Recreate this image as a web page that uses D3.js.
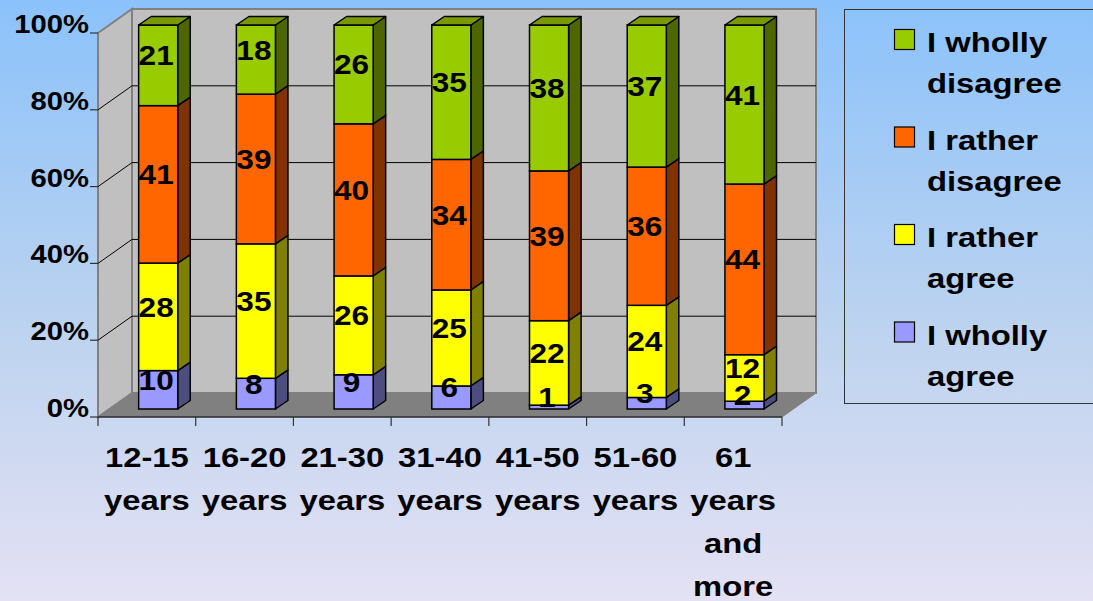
<!DOCTYPE html>
<html><head><meta charset="utf-8">
<script src="https://cdn.jsdelivr.net/npm/d3@7"></script>
<style>html,body{margin:0;padding:0;overflow:hidden;}svg{display:block;}</style>
</head><body>
<svg id="c" width="1093" height="601"></svg>
<script>
const categories = ["12-15 years","16-20 years","21-30 years","31-40 years","41-50 years","51-60 years","61 years and more"];
const seriesNames = ["I wholly agree","I rather agree","I rather disagree","I wholly disagree"];
const whollyAgree = [10,8,9,6,1,3,2];
const ratherAgree = [28,35,26,25,22,24,12];
const ratherDisagree = [41,39,40,34,39,36,44];
const whollyDisagree = [21,18,26,35,38,37,41];
const yTicks = [0,0.2,0.4,0.6,0.8,1];
const yTickLabels = ["0%","20%","40%","60%","80%","100%"];

const frontColors = ["#9999FF","#FFFF00","#FF6600","#99CC00"];
const sideColors  = ["#4D4D80","#808000","#803300","#4D6600"];
const topColors   = ["#7A7ACC","#CCCC00","#CC5200","#7A9900"];

const rows = categories.map((c,i)=>({cat:c, s0:whollyAgree[i], s1:ratherAgree[i], s2:ratherDisagree[i], s3:whollyDisagree[i]}));
const stack = d3.stack().keys(["s0","s1","s2","s3"]).offset(d3.stackOffsetExpand);
const stacked = stack(rows);

const svg = d3.select("#c");
const W=1093,H=601;
const SX = 1.17; // horizontal text stretch
const font = "'Liberation Sans', Arial, sans-serif";

// background gradient
const defs = svg.append("defs");
const g = defs.append("linearGradient").attr("id","bg").attr("x1",0).attr("y1",0).attr("x2",0).attr("y2",1);
g.append("stop").attr("offset","0%").attr("stop-color","#8BC2FB");
g.append("stop").attr("offset","55%").attr("stop-color","#BDD3EF");
g.append("stop").attr("offset","100%").attr("stop-color","#E4E1F4");
svg.append("rect").attr("width",W).attr("height",H).attr("fill","url(#bg)");

// geometry
const X0=98, X1=782, Y0=417, Y1=33;
const DX=34, DY=-24;
const x = d3.scaleBand().domain(categories).range([X0,X1]);
const y = d3.scaleLinear().domain([0,1]).range([Y0,Y1]);
const barW = x.bandwidth()*0.4;
const fx = DX/3, fy = DY/3;     // bar front offset
const bx = 12.5, by = -8.5;       // bar depth

const pts = a => a.map(p=>p.join(",")).join(" ");

// back wall
svg.append("polygon").attr("points",pts([[X0+DX,Y1+DY],[X1+DX,Y1+DY],[X1+DX,Y0+DY],[X0+DX,Y0+DY]]))
  .attr("fill","#C0C0C0").attr("stroke","#808080").attr("stroke-width",2);
// side wall
svg.append("polygon").attr("points",pts([[X0,Y1],[X0+DX,Y1+DY],[X0+DX,Y0+DY],[X0,Y0]]))
  .attr("fill","#C0C0C0").attr("stroke","#808080").attr("stroke-width",2);
// floor
svg.append("polygon").attr("points",pts([[X0,Y0],[X0+DX,Y0+DY],[X1+DX,Y0+DY],[X1,Y0]]))
  .attr("fill","#808080").attr("stroke","#808080").attr("stroke-width",1);

// gridlines
const grid = svg.append("g").attr("stroke","#000").attr("stroke-width",1);
yTicks.filter(t=>t>0 && t<1).forEach(t=>{
  grid.append("line").attr("x1",X0).attr("y1",y(t)).attr("x2",X0+DX).attr("y2",y(t)+DY);
  grid.append("line").attr("x1",X0+DX).attr("y1",y(t)+DY).attr("x2",X1+DX).attr("y2",y(t)+DY);
});

// axes lines
svg.append("line").attr("x1",X0).attr("y1",Y0).attr("x2",X1).attr("y2",Y0).attr("stroke","#000").attr("stroke-width",1.2);
const yAx = svg.append("g");
yTicks.forEach((t,i)=>{
  yAx.append("line").attr("x1",X0-8).attr("x2",X0).attr("y1",y(t)).attr("y2",y(t)).attr("stroke","#333").attr("stroke-width",1.2);
  yAx.append("text").attr("transform",`translate(${X0-9},${y(t)}) scale(${SX},1)`)
    .attr("text-anchor","end").attr("font-family",font).attr("font-weight","bold").attr("font-size",25)
    .text(yTickLabels[i]);
});
// x ticks
const xb = x.domain().map(d=>x(d)).concat([X1]);
xb.forEach(v=>{
  svg.append("line").attr("x1",v).attr("x2",v).attr("y1",Y0).attr("y2",Y0+9).attr("stroke","#333").attr("stroke-width",1.2);
});
// category labels
categories.forEach(c=>{
  const cx = x(c)+x.bandwidth()/2;
  const words = c.split(" ");
  words.forEach((w,j)=>{
    svg.append("text").attr("transform",`translate(${cx},${467+j*43}) scale(${SX},1)`)
      .attr("text-anchor","middle").attr("font-family",font).attr("font-weight","bold").attr("font-size",28)
      .text(w);
  });
});

// bars
const bars = svg.append("g");
categories.forEach((c,ci)=>{
  const left = x(c) + (x.bandwidth()-barW)/2 + fx;
  const right = left + barW;
  stacked.forEach((s,si)=>{
    const d = s[ci];
    const yb = y(d[0])+fy, yt = y(d[1])+fy;
    // side face
    bars.append("polygon").attr("points",pts([[right,yb],[right+bx,yb+by],[right+bx,yt+by],[right,yt]]))
      .attr("fill",sideColors[si]).attr("stroke","#000").attr("stroke-width",1.5).attr("stroke-linejoin","round");
    // front face
    bars.append("rect").attr("x",left).attr("y",yt).attr("width",barW).attr("height",Math.max(0,yb-yt))
      .attr("fill",frontColors[si]).attr("stroke","#000").attr("stroke-width",1.5);
    if(si===stacked.length-1){
      bars.append("polygon").attr("points",pts([[left,yt],[left+bx,yt+by],[right+bx,yt+by],[right,yt]]))
        .attr("fill",topColors[si]).attr("stroke","#000").attr("stroke-width",1.5).attr("stroke-linejoin","round");
    }
  });
});
// value labels
const labels = svg.append("g");
categories.forEach((c,ci)=>{
  const cxm = x(c) + x.bandwidth()/2 + fx - 2;
  stacked.forEach((s,si)=>{
    const d = s[ci];
    const ym = (y(d[0])+y(d[1]))/2 + fy;
    labels.append("text").attr("transform",`translate(${cxm},${ym}) scale(${SX},1)`)
      .attr("text-anchor","middle").attr("font-family",font).attr("font-weight","bold").attr("font-size",27)
      .text(d.data[s.key]);
  });
});

// legend
const lg = svg.append("g");
lg.append("rect").attr("x",844.5).attr("y",9.5).attr("width",270).attr("height",394)
  .attr("fill","none").attr("stroke","#333").attr("stroke-width",1);
const legendOrder = [3,2,1,0];
legendOrder.forEach((si,k)=>{
  const y0 = 29 + k*97.5;
  lg.append("rect").attr("x",894.5).attr("y",y0+0.5).attr("width",20).attr("height",20)
    .attr("fill",frontColors[si]).attr("stroke","#000").attr("stroke-width",1.2);
  const w = seriesNames[si].split(" ");
  const lines = [w.slice(0,2).join(" "), w.slice(2).join(" ")];
  lines.forEach((ln,j)=>{
    lg.append("text").attr("transform",`translate(927,${52+k*97.5+j*41}) scale(${SX},1)`)
      .attr("font-family",font).attr("font-weight","bold").attr("font-size",28).text(ln);
  });
});
</script>
</body></html>
